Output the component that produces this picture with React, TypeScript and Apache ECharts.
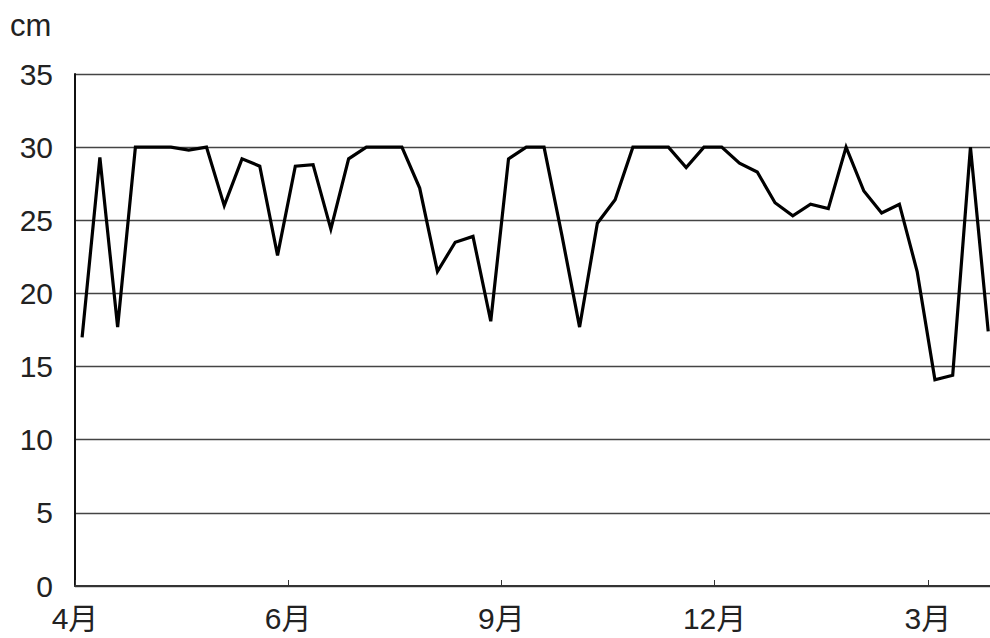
import React, { useEffect, useRef } from "react";
import * as echarts from "echarts";

// Weekly values (cm)
const values: number[] = [
  17.0, 29.3, 17.7, 30.0, 30.0, 30.0, 29.8, 30.0, 26.0, 29.2,
  28.7, 22.6, 28.7, 28.8, 24.4, 29.2, 30.0, 30.0, 30.0, 27.2,
  21.5, 23.5, 23.9, 18.1, 29.2, 30.0, 30.0, 24.0, 17.7, 24.8,
  26.4, 30.0, 30.0, 30.0, 28.6, 30.0, 30.0, 28.9, 28.3, 26.2,
  25.3, 26.1, 25.8, 30.0, 27.0, 25.5, 26.1, 21.5, 14.1, 14.4,
  30.0, 17.4,
];

// Month tick labels and the week positions where they sit
const monthLabels: string[] = ["4月", "6月", "9月", "12月", "3月"];
const monthTickWeeks: number[] = [0, 12, 24, 36, 48];

const yTicks = { min: 0, max: 35, interval: 5 };
const unitLabel = "cm";

const FONT = "'Liberation Sans', Arial, 'Noto Sans CJK JP', sans-serif";

export default function App() {
  const ref = useRef<HTMLDivElement>(null);

  useEffect(() => {
    if (!ref.current) return;
    const chart = echarts.init(ref.current, undefined, { renderer: "svg" });
    const data = values.map((v, i) => [i + 0.4, v]);
    chart.setOption({
      animation: false,
      backgroundColor: "#ffffff",
      grid: { left: 75, top: 74, right: 0, bottom: 52, containLabel: false },
      graphic: [
        {
          type: "text",
          left: 10,
          top: 10,
          style: {
            text: unitLabel,
            font: `31px ${FONT}`,
            fill: "#222",
          },
        },
      ],
      xAxis: {
        type: "value",
        min: 0,
        max: 51.5,
        interval: 12,
        axisLine: { show: true, lineStyle: { color: "#333", width: 2 } },
        axisTick: {
          show: true,
          inside: true,
          length: 6,
          lineStyle: { color: "#333", width: 1 },
        },
        splitLine: { show: false },
        axisLabel: {
          show: true,
          margin: 17,
          fontSize: 30,
          fontFamily: FONT,
          color: "#222",
          showMaxLabel: false,
          formatter: (v: number) => {
            const idx = monthTickWeeks.indexOf(Math.round(v));
            return idx >= 0 && Math.abs(v - monthTickWeeks[idx]) < 1e-6
              ? monthLabels[idx]
              : "";
          },
        },
      },
      yAxis: {
        type: "value",
        min: yTicks.min,
        max: yTicks.max,
        interval: yTicks.interval,
        axisLine: { show: true, lineStyle: { color: "#111", width: 2 } },
        axisTick: { show: false },
        splitLine: { show: true, lineStyle: { color: "#444", width: 1.3 } },
        axisLabel: {
          margin: 22,
          fontSize: 30,
          fontFamily: FONT,
          color: "#222",
        },
      },
      series: [
        {
          type: "line",
          data,
          showSymbol: false,
          symbol: "none",
          lineStyle: { color: "#000", width: 3.2, join: "miter" },
          clip: true,
        },
      ],
    });
    return () => chart.dispose();
  }, []);

  return (
    <div
      ref={ref}
      style={{ position: "fixed", left: 0, top: 0, width: 990, height: 638 }}
    />
  );
}
